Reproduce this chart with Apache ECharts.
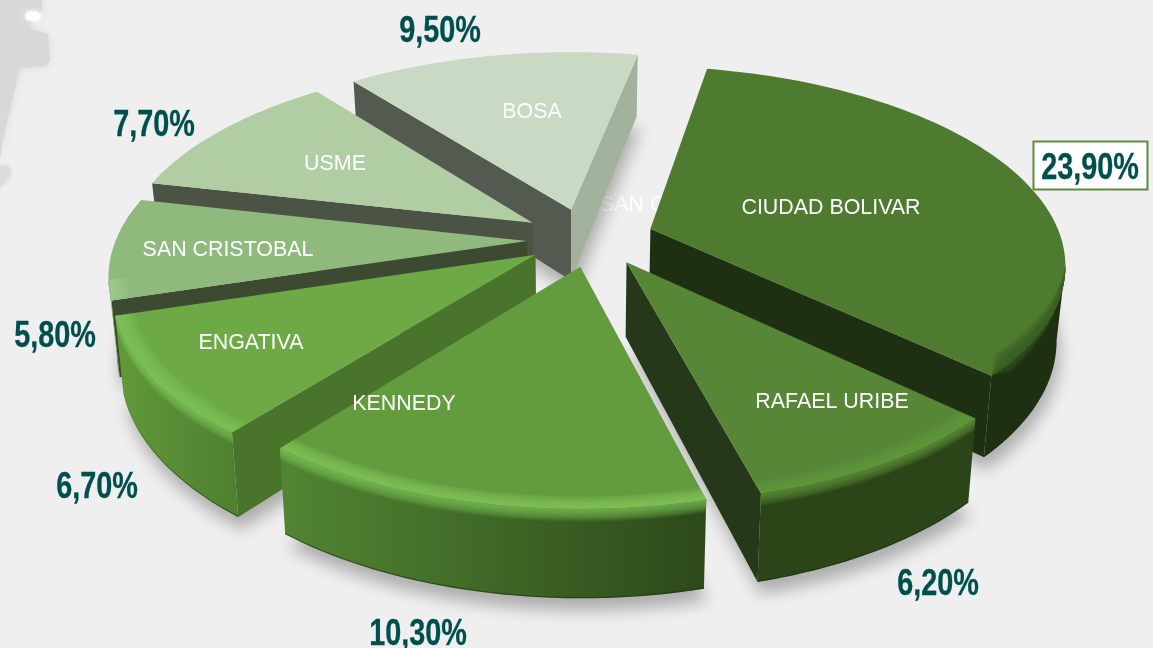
<!DOCTYPE html>
<html><head><meta charset="utf-8">
<style>html,body{margin:0;padding:0;background:#efefef}#c{width:1153px;height:648px}</style>
<script src="https://cdn.jsdelivr.net/npm/echarts@6/dist/echarts.min.js"></script>
</head><body><div id="c"></div>
<script>
const categories = ['CIUDAD BOLIVAR','RAFAEL URIBE','KENNEDY','ENGATIVA','SAN CRISTOBAL','USME','BOSA'];
const values = [23.9, 6.2, 10.3, 6.7, 5.8, 7.7, 9.5];

// styling and layout, per slice
const topColors   = ['#4e7b2f','#578637','#639c3f','#6daa45','#90b97e','#b0cda4','#c9d9c3'];
const rimColors   = ['#3a5c22','#659a42','#84c65c','#80c659','#a5d08f','#b0cda4','#c9d9c3'];
const radialStart = ['#1e3011','#25391a','#3f6425','#4a742c','#3d4a32','#4b5344','#535a4f'];
const radialEnd   = ['#1e3011','#25391a','#3f6425','#4a742c','#3d4a32','#4b5344','#a2b29c'];
const wallFrom    = ['#1e3011','#2b4418','#2d491a','#4f8030','#5f9438','#6d8a5f','#a2b29c'];
const wallTo      = ['#1e3011','#2b4418','#528533','#629a3a','#5f9438','#6d8a5f','#a2b29c'];
const explode     = [0.17,0.12,0.13,0.11,0.11,0.13,0.14];
const nudge       = [[0,0],[0.047,-0.004],[0.038,-0.008],[0.008,0.004],[0.008,0],[0.018,-0.01],[0.024,-0.005]];
const namePos = [[831,208],[832,402],[404,404],[251,343],[228,250],[335,164],[532,112]];
const pctPos  = [[1090,169],[938,585],[418,635],[97,488],[55,337],[154,126],[440,32]];

const view = {cx:575, cy:240, a:470, b:220, k:0.187, R:0.875, D:73, startDeg:11};
const rad = d => d*Math.PI/180;
function project(X,Y,z){
  const w = 1 - view.k*Y;
  return [view.cx + view.a*X/w*(1-0.018*z), view.cy + view.b*Y/w + view.D*z/w];
}
function rgba(c,al){
  const p=[1,3,5].map(i=>parseInt(c.substr(i,2),16));
  return 'rgba('+p.join(',')+','+al+')';
}
const total = values.reduce((s,v)=>s+v,0);
function angles(i){
  let s=view.startDeg;
  for(let j=0;j<i;j++) s+=values[j]/total*360;
  return [s, s+values[i]/total*360];
}
function midY(i){
  const [a,b]=angles(i); return -Math.cos(rad((a+b)/2));
}
const order = values.map((_,i)=>i).sort((p,q)=>midY(p)-midY(q));

function renderItem(params, api){
  const i = params.dataIndex;
  const [t0,t1] = angles(i);
  const mid = (t0+t1)/2, e = explode[i];
  const ox = e*Math.sin(rad(mid))+nudge[i][0], oy = -e*Math.cos(rad(mid))+nudge[i][1];
  const rank = order.indexOf(i)+1;
  const pt = (deg,r,z) => project(ox+r*Math.sin(rad(deg)), oy-r*Math.cos(rad(deg)), z);
  const apex = z => project(ox,oy,z);
  const inner = pt(mid,view.R*0.5,0);
  const kids = [];
  let z2 = rank*10000;
  const poly = (points,fill) => kids.push({type:'polygon',z2:z2++,shape:{points},style:{fill}});
  const facesViewer = (p,q) => {
    const dx=q[0]-p[0], dy=q[1]-p[1];
    const sideIn = dx*(inner[1]-p[1])-dy*(inner[0]-p[0]);
    return dx*sideIn < 0;
  };
  const n = Math.max(4,Math.ceil((t1-t0)/1.5));
  const arc = (r,z,a,b) => { const o=[]; for(let s=a;s<=b;s++) o.push(pt(t0+(t1-t0)*s/n,r,z)); return o; };

  // soft shadow cast by the base
  kids.push({type:'polygon',z2:rank,shape:{points:[apex(1)].concat(arc(view.R,1,0,n))},
    style:{fill:'#d2d2d2',shadowBlur:16,shadowColor:'rgba(0,0,0,0.28)',shadowOffsetX:3,shadowOffsetY:12}});

  // radial faces
  [[t0,radialStart[i]],[t1,radialEnd[i]]].forEach(([deg,col])=>{
    const p=apex(0), q=pt(deg,view.R,0);
    if(facesViewer(p,q)) poly([p,q,pt(deg,view.R,1),apex(1)],col);
  });
  // outer wall: the part of the arc that faces the viewer
  const topA=arc(view.R,0,0,n);
  let first=-1,last=-1;
  for(let s=0;s<n;s++) if(facesViewer(topA[s],topA[s+1])){ if(first<0)first=s; last=s+1; }
  const hasWall = first>=0;
  // band width tapers to nothing at the ends for the long slice, whose rim fades in
  const taper = s => i===0 ? Math.min(1,(s-first)/18,(last-s)/3) : 1;
  if(hasWall){
    const top=arc(view.R,0,first,last);
    const wallBand = z => {
      const low=[]; for(let s=first;s<=last;s++) low.push(pt(t0+(t1-t0)*s/n,view.R,z*taper(s)));
      return top.concat(low.reverse());
    };
    const g=new echarts.graphic.LinearGradient(topA[0][0],0,topA[n][0],0,
      [{offset:0,color:wallFrom[i]},{offset:1,color:wallTo[i]}],true);
    poly(top.concat(arc(view.R,1,first,last).reverse()),g);
    // darker foot of the wall
    poly(arc(view.R,1,first,last).concat(arc(view.R,0.985,first,last).reverse()),rgba('#1e3011',0.55));
    // highlight fading down the wall
    for(let b=12;b>=1;b--) poly(wallBand(0.012*b),rgba(rimColors[i],0.11));
  }
  // top surface
  poly([apex(0)].concat(topA),topColors[i]);
  // bevel along the rim, nested bands so the highlight builds up towards the edge
  if(hasWall){
    const rimTop=arc(view.R,0,first,last).reverse();
    for(let b=12;b>=1;b--){
      const inb=[]; for(let s=first;s<=last;s++) inb.push(pt(t0+(t1-t0)*s/n,view.R-0.0032*b*taper(s),0));
      poly(inb.concat(rimTop),rgba(rimColors[i],0.14));
    }
  }
  // labels
  z2 = 900000+i;
  kids.push({type:'text',z2:z2++,style:{text:categories[i],x:namePos[i][0],y:namePos[i][1],
    fill:'#ffffff',font:'21.4px "Liberation Sans",Arial,sans-serif',align:'center',verticalAlign:'middle'}});
  const pct = api.value(0).toFixed(2).replace('.',',')+'%';
  if(i===0){
    kids.push({type:'rect',z2:z2++,shape:{x:1033.5,y:141.5,width:114,height:48},
      style:{fill:'#ffffff',stroke:'#5f8a3f',lineWidth:2}});
  }
  kids.push({type:'text',z2:z2++,x:pctPos[i][0],y:pctPos[i][1],scaleX:0.8,
    style:{text:pct,x:0,y:0,fill:'#004f4f',stroke:'#004f4f',lineWidth:0.3,
    font:'bold 36px "Liberation Sans",Arial,sans-serif',align:'center',verticalAlign:'middle'}});
  return {type:'group',children:kids};
}

const chart = echarts.init(document.getElementById('c'),null,{renderer:'canvas'});
chart.setOption({
  animation:false,
  backgroundColor:'#efefef',
  graphic:[
    {type:'polygon',z:-1,shape:{points:[[0,0],[42,0],[42,10],[28,28],[48,34],[50,60],[46,66],[20,68],[12,100],[3,140],[0,160]]},
      style:{fill:'#d8d8d8',shadowBlur:8,shadowColor:'#d8d8d8'}},
    {type:'polygon',z:-1,shape:{points:[[0,165],[9,166],[11,176],[0,188]]},style:{fill:'#dcdcdc',shadowBlur:5,shadowColor:'#dcdcdc'}},
    {type:'ellipse',z:-1,shape:{cx:33,cy:16,rx:8,ry:5},style:{fill:'#ffffff',shadowBlur:6,shadowColor:'#ffffff'}}
  ],
  series:[
    {type:'custom',coordinateSystem:'none',silent:true,clip:false,renderItem,data:values.map(v=>[v])},
    {type:'custom',coordinateSystem:'none',silent:true,z:1,
     renderItem:()=>({type:'text',z2:0,style:{text:'SAN C',x:600,y:205,fill:'#ffffff',
       font:'21.4px "Liberation Sans",Arial,sans-serif',align:'left',verticalAlign:'middle'}}),data:[[0]]}
  ]
});
</script></body></html>
